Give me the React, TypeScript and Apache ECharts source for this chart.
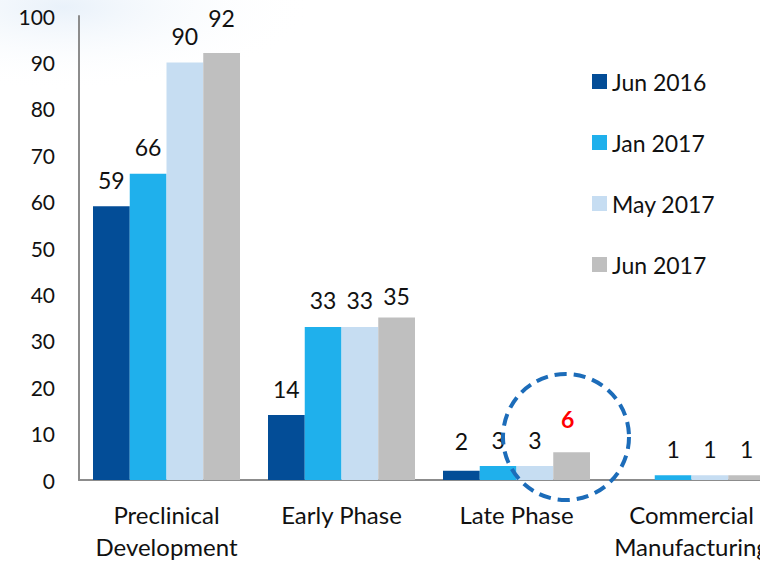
import React, { useEffect, useRef } from "react";
import * as echarts from "echarts";

const categories = ["Preclinical\nDevelopment", "Early Phase", "Late Phase", "Commercial\nManufacturing"];
const seriesNames = ["Jun 2016", "Jan 2017", "May 2017", "Jun 2017"];
const jun2016 = [59, 14, 2, 0];
const jan2017 = [66, 33, 3, 1];
const may2017 = [90, 33, 3, 1];
const jun2017 = [92, 35, 6, 1];
const colors = ["#034D97", "#1FB0EC", "#C6DDF2", "#BFBFBF"];
const yTicks = [0, 10, 20, 30, 40, 50, 60, 70, 80, 90, 100];

const FONT = "Lato";

// small per-label nudges [series, category, dx, dy]
const labelNudges: [number, number, number, number][] = [
  [3, 0, 0, -9],
  [3, 1, 0, 5],
  [0, 2, 0, -3],
];

export default function App() {
  const ref = useRef<HTMLDivElement>(null);
  useEffect(() => {
    if (!ref.current) return;
    const chart = echarts.init(ref.current, null, { renderer: "svg" });
    const allData = [jun2016, jan2017, may2017, jun2017];
    const series = seriesNames.map((name, si) => ({
      name,
      type: "bar",
      barGap: "0%",
      barCategoryGap: "16%",
      itemStyle: { color: colors[si] },
      label: {
        show: true,
        position: "top",
        distance: 15,
        color: "#111",
        fontFamily: FONT,
        fontSize: 23,
        formatter: (p: any) => (p.value === 0 ? "" : String(p.value)),
      },
      data: allData[si].map((v, ci) => {
        if (si === 3 && ci === 2) {
          return {
            value: v,
            label: { color: "#FF0000", fontWeight: "bold", distance: 22, offset: [-4, 0] },
          };
        }
        const n = labelNudges.find((x) => x[0] === si && x[1] === ci);
        if (n) return { value: v, label: { offset: [n[2], n[3]] } };
        return v;
      }),
    }));
    chart.setOption({
      animation: false,
      backgroundColor: "#fff",
      textStyle: { fontFamily: FONT },
      graphic: [
        {
          type: "rect",
          shape: { x: 0, y: 0, width: 420, height: 140 },
          style: {
            fill: new echarts.graphic.RadialGradient(0.15, 0.05, 0.6, [
              { offset: 0, color: "rgba(215,230,246,0.55)" },
              { offset: 1, color: "rgba(255,255,255,0)" },
            ]),
          },
          z: -10,
          silent: true,
        },
        {
          type: "circle",
          shape: { cx: 566, cy: 437, r: 63 },
          style: { fill: "none", stroke: "#1C6CB9", lineWidth: 4, lineDash: [12, 7] },
          z: 100,
          silent: true,
        },
      ],
      legend: {
        orient: "vertical",
        left: 592,
        top: 70,
        padding: 0,
        itemWidth: 15,
        itemHeight: 15,
        itemGap: 38,
        icon: "rect",
        data: seriesNames,
        textStyle: { fontFamily: FONT, fontSize: 23, color: "#111" },
      },
      grid: { left: 79, top: 16, bottom: 81, right: 21, containLabel: false },
      xAxis: {
        type: "category",
        data: categories,
        axisLine: { lineStyle: { color: "#8C8C8C", width: 2 } },
        axisTick: { show: false },
        axisLabel: {
          fontFamily: FONT,
          fontSize: 24,
          color: "#111",
          lineHeight: 32,
          margin: 18,
          interval: 0,
        },
      },
      yAxis: {
        type: "value",
        min: 0,
        max: 100,
        interval: 10,
        axisLine: { show: true, lineStyle: { color: "#8C8C8C", width: 2 } },
        axisTick: { show: false },
        splitLine: { show: false },
        axisLabel: {
          fontFamily: FONT,
          fontSize: 21,
          color: "#111",
          margin: 24,
          formatter: (v: number) => (yTicks.includes(v) ? String(v) : ""),
        },
      },
      series,
    });
    return () => chart.dispose();
  }, []);
  return (
    <div style={{ position: "fixed", left: 0, top: 0, width: 760, height: 562, overflow: "hidden", background: "#fff" }}>
      <div ref={ref} style={{ width: 800, height: 562 }} />
    </div>
  );
}
